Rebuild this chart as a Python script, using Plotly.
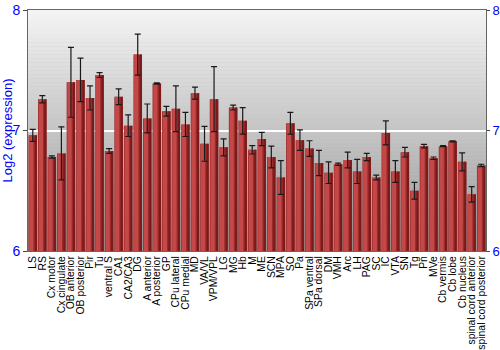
import plotly.graph_objects as go

categories = ["LS", "RS", "Cx motor", "Cx cingulate", "OB anterior", "OB posterior", "Pir", "Tu",
              "ventral S", "CA1", "CA2/CA3", "DG", "A anterior", "A posterior", "GP", "CPu lateral",
              "CPu medial", "MD", "VA/VL", "VPM/VPL", "LG", "MG", "Hb", "M", "ME", "SCN", "MPA",
              "SO", "Pa", "SPa ventral", "SPa dorsal", "DM", "VMH", "Arc", "LH", "PAG", "SC", "IC",
              "VTA", "SN", "Tg", "Pn", "MVe", "Cb vermis", "Cb lobe", "Cb nucleus",
              "spinal cord anterior", "spinal cord posterior"]
values = [6.96, 7.26, 6.78, 6.81, 7.40, 7.42, 7.27, 7.46,
          6.83, 7.28, 7.04, 7.63, 7.10, 7.39, 7.16, 7.18,
          7.05, 7.31, 6.89, 7.26, 6.86, 7.19, 7.08, 6.84, 6.93, 6.78, 6.61,
          7.06, 6.92, 6.85, 6.73, 6.65, 6.72, 6.755, 6.66, 6.78, 6.61, 6.98,
          6.66, 6.82, 6.50, 6.87, 6.77, 6.87, 6.91, 6.74,
          6.47, 6.71]
errors = [0.05, 0.03, 0.01, 0.22, 0.29, 0.18, 0.10, 0.02,
          0.02, 0.065, 0.09, 0.17, 0.12, 0.005, 0.04, 0.19,
          0.10, 0.05, 0.145, 0.27, 0.07, 0.02, 0.11, 0.035, 0.055, 0.09, 0.14,
          0.09, 0.085, 0.065, 0.105, 0.09, 0.01, 0.065, 0.10, 0.03, 0.02, 0.10,
          0.09, 0.04, 0.07, 0.015, 0.01, 0.005, 0.005, 0.075,
          0.065, 0.01]
y_ticks = [6, 7, 8]

blue = "#0000ff"
fig = go.Figure()

# shaded bars: base, lighter left part, darker right part
fig.add_trace(go.Bar(x=categories, y=values, width=0.9, marker=dict(color="#9c2a2a", line=dict(width=0)),
                     hoverinfo="skip"))
fig.add_trace(go.Bar(x=categories, y=values, width=0.45, offset=-0.38, marker=dict(color="#c44848", line=dict(width=0)),
                     hoverinfo="skip"))
fig.add_trace(go.Bar(x=categories, y=values, width=0.22, offset=0.21, marker=dict(color="#7a1a1a", line=dict(width=0)),
                     hoverinfo="skip"))
# error bars
fig.add_trace(go.Scatter(x=categories, y=values, mode="markers", marker=dict(opacity=0, size=1),
                         error_y=dict(type="data", array=errors, color="#1a1a1a", thickness=1.2, width=3),
                         hoverinfo="skip"))
# right axis carrier
fig.add_trace(go.Scatter(x=categories, y=values, mode="markers", marker=dict(opacity=0, size=1),
                         yaxis="y2", hoverinfo="skip"))

# background gradient bands
n = 60
shapes = []
for i in range(n):
    t = i / (n - 1)
    g = int(150 + (244 - 150) * t)
    shapes.append(dict(type="rect", xref="x domain", yref="y domain", x0=0, x1=1,
                       y0=i / n, y1=(i + 1) / n, layer="below", line=dict(width=0),
                       fillcolor=f"rgb({g},{g},{g})"))

fig.update_layout(
    width=500, height=350,
    margin=dict(l=28, r=14, t=10, b=99, autoexpand=False),
    paper_bgcolor="white", plot_bgcolor="#c8c8c8",
    barmode="overlay", bargap=0.1, showlegend=False,
    shapes=shapes,
    font=dict(family="Liberation Sans, Arial, sans-serif"),
    xaxis=dict(type="category", tickmode="array", tickvals=categories, ticktext=categories,
               tickangle=-90, tickfont=dict(size=10.4, color="black"), automargin=False,
               showline=True, linecolor="#666", mirror=True, ticks="", showgrid=False,
               range=[-0.5, len(categories) - 0.5]),
    yaxis=dict(range=[6, 8], tickvals=y_ticks, tickfont=dict(size=14, color=blue), automargin=False,
               title=dict(text="Log2 (expression)", font=dict(size=13, color=blue), standoff=2),
               showline=True, linecolor="#666", mirror=True, ticks="outside", ticklen=4,
               tickcolor="#444", showgrid=True, gridcolor="white", gridwidth=1.5, zeroline=False),
    yaxis2=dict(range=[6, 8], tickvals=y_ticks, tickfont=dict(size=13, color=blue), overlaying="y",
                side="right", ticks="outside", ticklen=3, tickcolor="#444", showgrid=False,
                automargin=False, zeroline=False, showline=False),
)

fig.write_html("out.html")
